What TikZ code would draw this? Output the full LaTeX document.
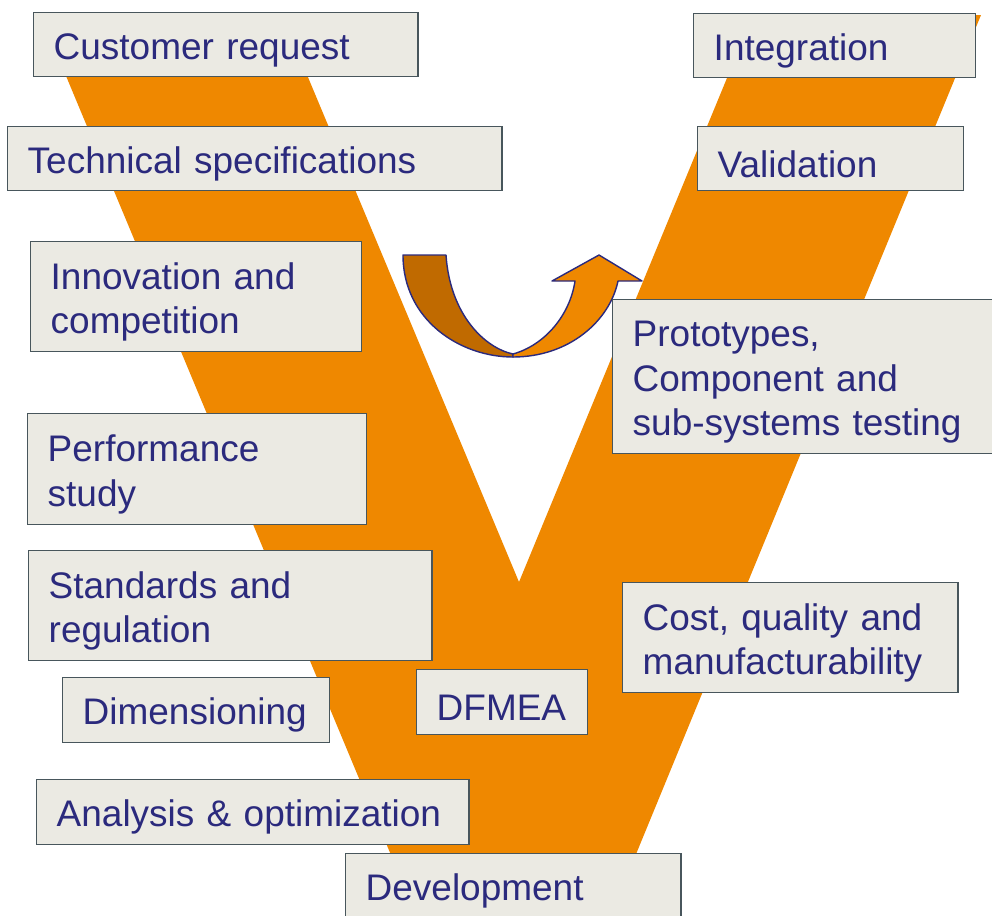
\documentclass[tikz,border=0pt]{standalone}
\usepackage{fontspec}
\setmainfont{Liberation Sans}
\usetikzlibrary{positioning}
\definecolor{vorange}{RGB}{239,136,0}
\definecolor{vdark}{RGB}{192,106,0}
\definecolor{boxfill}{RGB}{235,234,227}
\definecolor{boxline}{RGB}{72,86,92}
\definecolor{navy}{RGB}{43,42,125}
\tikzset{
phase/.style 2 args={draw=boxline, fill=boxfill, line width=1pt, % grey boxes of the steps
  text=navy, align=left, anchor=north west, inner xsep=0.5cm, inner ysep=0pt,
  text width=#1, minimum height=#2,
  font=\fontsize{26.3}{31.7}\selectfont,
  execute at begin node={\rule{0pt}{1.0em}}}, % pushes the text a bit down
uturn/.style={draw=navy, line width=1pt, line join=round}, % the curved arrow
}
\begin{document}
\begin{tikzpicture}[x=0.025cm, y=-0.025cm]
\useasboundingbox (0,0) rectangle (992,915);
% the V
\fill[vorange] (40.6,15) -- (282,15) -- (519,582) -- (753,15) -- (981,15)
    -- (611,915) -- (416,915) -- cycle;
% the u-turn arrow
\filldraw[uturn, fill=vdark] (403,255) -- (446,255)
    .. controls (450,315) and (485,348) .. (513,354)
    -- (513,357) .. controls (460,357) and (403,320) .. cycle;
\filldraw[uturn, fill=vorange] (513,357) .. controls (570,357) and (610,320) .. (618,281)
    -- (642,281) -- (599,255) -- (552,281) -- (575,281)
    .. controls (570,315) and (545,345) .. (513,354) -- cycle;
% left arm
\node[phase={8.6cm}{1.6cm}] (custreq) at (33,12) {Customer request};
\node[phase={11.35cm}{1.6cm}] (techspec) at (7,126) {Technical specifications};
\node[phase={7.275cm}{2.75cm}] (innov) at (30,241) {Innovation and\\competition};
\node[phase={7.475cm}{2.775cm}] (perf) at (27,413) {Performance\\study};
\node[phase={9.075cm}{2.75cm}] (stand) at (28,550) {Standards and\\regulation};
\node[phase={5.675cm}{1.625cm}] (dimen) at (62,677) {Dimensioning};
\node[phase={9.8cm}{1.625cm}] (analysis) at (36,779) {Analysis \& optimization};
% bottom
\node[phase={7.375cm}{1.6cm}] (devel) at (345,853) {Development};
\node[phase={3.275cm}{1.625cm}] (dfmea) at (416,669) {DFMEA};
% right arm
\node[phase={7.375cm}{2.75cm}] (cost) at (622,582) {Cost, quality and\\manufacturability};
\node[phase={8.75cm}{3.85cm}] (proto) at (612,299) {Prototypes,\\Component and\\sub-systems testing};
\node[phase={6.05cm}{1.6cm}] (integ) at (693,13) {Integration};
\node[phase={5.65cm}{1.6cm}] (valid) at (697,126) {Validation};
\end{tikzpicture}
\end{document}
